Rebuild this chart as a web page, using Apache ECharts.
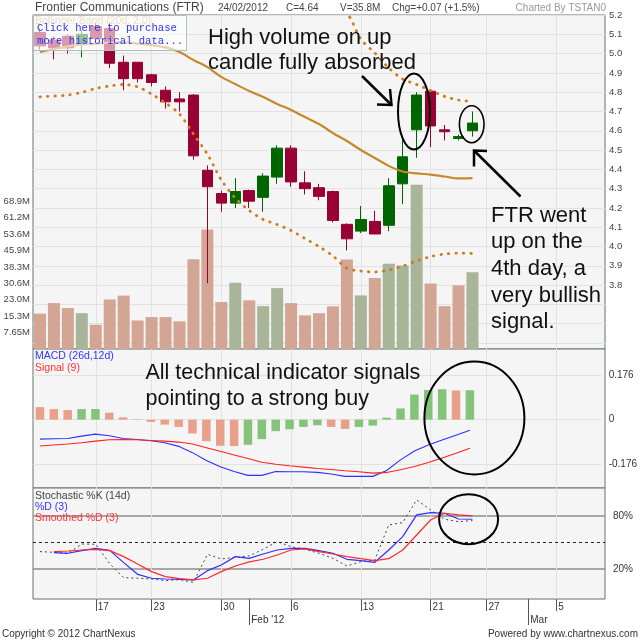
<!DOCTYPE html>
<html>
<head>
<meta charset="utf-8">
<title>Frontier Communications (FTR)</title>
<script src="https://cdn.jsdelivr.net/npm/echarts@6/dist/echarts.min.js"></script>
<style>
    html, body { margin: 0; padding: 0; background: #fff; }
    #chart { width: 640px; height: 640px; }
</style>
</head>
<body>
<div id="chart"></div>
<script>
// trading days (last 9 are empty slots on the axis)
var dates = ['2012-01-10','2012-01-11','2012-01-12','2012-01-13','2012-01-17','2012-01-18','2012-01-19','2012-01-20',
    '2012-01-23','2012-01-24','2012-01-25','2012-01-26','2012-01-27','2012-01-30','2012-01-31',
    '2012-02-01','2012-02-02','2012-02-03','2012-02-06','2012-02-07','2012-02-08','2012-02-09','2012-02-10',
    '2012-02-13','2012-02-14','2012-02-15','2012-02-16','2012-02-17','2012-02-21','2012-02-22','2012-02-23','2012-02-24',
    '2012-02-27','2012-02-28','2012-02-29','2012-03-01','2012-03-02','2012-03-05','2012-03-06','2012-03-07','2012-03-08'];

var opens  = [5.11, 5.07, 5.09, 5.05, 5.14, 5.13, 4.955, 4.955, 4.89, 4.81, 4.765, 4.785, 4.395, 4.275, 4.225, 4.29,
              4.255, 4.36, 4.51, 4.33, 4.305, 4.285, 4.115, 4.08, 4.13, 4.11, 4.325, 4.605, 4.805, 4.605, 4.56, 4.60];
var closes = [5.04, 5.03, 5.03, 5.10, 5.08, 4.95, 4.87, 4.87, 4.85, 4.75, 4.75, 4.47, 4.31, 4.225, 4.285, 4.235,
              4.365, 4.51, 4.335, 4.30, 4.26, 4.135, 4.04, 4.14, 4.065, 4.315, 4.465, 4.785, 4.625, 4.595, 4.57, 4.64];
var lows   = [5.02, 4.97, 5.00, 4.98, 5.07, 4.925, 4.81, 4.85, 4.83, 4.715, 4.70, 4.45, 3.81, 4.18, 4.20, 4.20,
              4.18, 4.325, 4.31, 4.27, 4.24, 4.125, 3.98, 4.07, 4.065, 4.08, 4.22, 4.46, 4.515, 4.55, 4.55, 4.57];
var highs  = [5.13, 5.09, 5.10, 5.12, 5.16, 5.16, 4.99, 4.955, 4.895, 4.83, 4.80, 4.79, 4.42, 4.29, 4.355, 4.295,
              4.38, 4.525, 4.525, 4.39, 4.325, 4.29, 4.12, 4.21, 4.185, 4.355, 4.57, 4.80, 4.805, 4.63, 4.58, 4.70];
// volume in millions
var volumes = [16.5, 21.4, 19.1, 16.7, 11.3, 23.1, 24.9, 13.3, 14.9, 14.9, 12.9, 41.9, 55.7, 21.9, 30.9, 22.7,
               20.0, 28.4, 21.4, 15.7, 16.7, 19.9, 41.7, 25.0, 33.1, 39.8, 39.0, 76.6, 30.5, 20.0, 29.7, 35.8];

// Bollinger band (20d, 2.0)
var bbMid   = [5.008, 5.024, 5.037, 5.047, 5.052, 5.057, 5.058, 5.052, 5.044, 5.032, 5.008, 4.967, 4.930, 4.879, 4.842, 4.806,
               4.775, 4.739, 4.708, 4.671, 4.635, 4.588, 4.547, 4.500, 4.459, 4.418, 4.389, 4.379, 4.373, 4.363, 4.353, 4.355];
var bbUpper = [5.22, 5.23, 5.25, 5.27, 5.28, 5.29, 5.30, 5.31, 5.32, 5.34, 5.37, 5.41, 5.46, 5.50, 5.51, 5.49,
               5.45, 5.40, 5.36, 5.32, 5.28, 5.24, 5.21, 5.075, 5.003, 4.925, 4.868, 4.840, 4.809, 4.778, 4.759, 4.752];
var bbLower = [4.776, 4.780, 4.785, 4.799, 4.819, 4.832, 4.840, 4.827, 4.790, 4.744, 4.687, 4.583, 4.479, 4.345, 4.251, 4.187,
               4.140, 4.114, 4.083, 4.041, 4.000, 3.951, 3.888, 3.873, 3.868, 3.878, 3.899, 3.925, 3.948, 3.961, 3.966, 3.964];

// MACD (26d,12d), signal (9)
var macdHist = [0.0495, 0.0417, 0.0378, 0.0417, 0.0420, 0.0274, 0.0091, 0.002, -0.0091, -0.0196, -0.0287, -0.0548, -0.0848, -0.103, -0.104, -0.0991,
                -0.0769, -0.0456, -0.0378, -0.0287, -0.0222, -0.0287, -0.0365, -0.0287, -0.0235, 0.0078, 0.0443, 0.0991, 0.117, 0.120, 0.115, 0.116];
var macdLine = [-0.0767, -0.0754, -0.0741, -0.065, -0.0572, -0.0637, -0.0741, -0.078, -0.0832, -0.091, -0.1053, -0.13, -0.1612, -0.1859, -0.2041, -0.2197,
                -0.2197, -0.2041, -0.2054, -0.2054, -0.208, -0.2145, -0.2236, -0.2236, -0.2236, -0.2002, -0.1586, -0.1235, -0.1001, -0.0806, -0.0611, -0.0416];
var signalLine = [-0.104, -0.1001, -0.0962, -0.091, -0.0845, -0.0793, -0.078, -0.0793, -0.0819, -0.0845, -0.0884, -0.0962, -0.1105, -0.1248, -0.1391, -0.1534,
                  -0.1677, -0.1755, -0.182, -0.1872, -0.1924, -0.1963, -0.2015, -0.2054, -0.2106, -0.208, -0.1976, -0.1846, -0.169, -0.1508, -0.1326, -0.1131];

// Stochastic %K (14d), %D (3), smoothed %D (3)
var stochK  = [39.7, 38.9, 37.8, 48.3, 48.0, 26.0, 10.2, 9.5, 8.7, 6.8, 8.0, 4.9, 36.6, 31.4, 33.2, 34.8,
               42.3, 51.0, 45.3, 42.3, 37.8, 32.1, 23.4, 28.3, 30.2, 69.9, 72.5, 98.2, 86.8, 76.3, 73.6, 74.8];
var stochD  = [null, 38.5, 37.8, 40.8, 43.4, 41.1, 27.2, 14.0, 9.5, 8.7, 8.3, 7.6, 18.1, 24.6, 34.0, 32.1,
               37.0, 41.5, 43.4, 43.4, 40.8, 37.8, 31.0, 29.5, 27.6, 41.5, 56.6, 81.2, 83.8, 83.1, 76.6, 76.3];
var stochSD = [null, 39.7, 40.4, 41.5, 42.3, 40.8, 34.0, 25.7, 17.0, 11.4, 9.1, 7.6, 9.5, 17.0, 23.4, 28.0,
               31.0, 35.9, 41.5, 42.7, 39.7, 37.0, 34.0, 31.7, 29.5, 31.7, 41.5, 58.5, 75.5, 83.1, 81.2, 80.1];

// axis labels
var volLabels = ['7.65M', '15.3M', '23.0M', '30.6M', '38.3M', '45.9M', '53.6M', '61.2M', '68.9M'];
var macdLabels = ['-0.176', '0', '0.176'];
var stochLabels = ['20%', '80%'];
var tickIdx = [4, 8, 13, 18, 23, 28, 32, 37];
var tickText = ['17', '23', '30', '6', '13', '21', '27', '5'];
var monthIdx = [15, 35];
var monthText = ["Feb '12", 'Mar'];

var FONT = '"Liberation Sans", Arial, sans-serif';
var PANEL_BG = '#f5f5f5', BORDER = '#66726a', GRIDC = '#e2e2e2';
var VOL_UP = '#a8b598', VOL_DN = '#d3a594';
var HIST_UP = '#86c37a', HIST_DN = '#e9a08b';

var chart = echarts.init(document.getElementById('chart'));

var tickFn = function (i) { return tickIdx.indexOf(i) >= 0; };
var monthFn = function (i) { return monthIdx.indexOf(i) >= 0; };

function catAxis(gi, withGrid) {
    return {
        type: 'category', gridIndex: gi, data: dates, boundaryGap: true, z: 1,
        axisLine: {show: false}, axisTick: {show: false}, axisLabel: {show: false},
        splitLine: withGrid ? {show: true, alignWithLabel: true, interval: tickFn, lineStyle: {color: GRIDC, width: 1}} : {show: false}
    };
}

function panel(top, height) {
    return {left: 33, right: 35, top: top, height: height, show: true, z: 0,
        backgroundColor: PANEL_BG, borderColor: BORDER, borderWidth: 1};
}

var xBottom = catAxis(4, true);
xBottom.axisTick = {show: true, alignWithLabel: true, interval: tickFn, length: 12, lineStyle: {color: '#555'}};
xBottom.axisLabel = {show: true, interval: tickFn, align: 'left', padding: [0, 0, 0, 2], margin: 3,
    fontSize: 10, fontFamily: FONT, color: '#333',
    formatter: function (v, i) { return tickText[tickIdx.indexOf(i)] || ''; }};

var xMonth = catAxis(4, false);
xMonth.position = 'bottom';
xMonth.axisTick = {show: true, alignWithLabel: true, interval: monthFn, length: 26, lineStyle: {color: '#555'}};
xMonth.axisLabel = {show: true, interval: monthFn, align: 'left', padding: [0, 0, 0, 2], margin: 16,
    fontSize: 10, fontFamily: FONT, color: '#333',
    formatter: function (v, i) { return monthText[monthIdx.indexOf(i)] || ''; }};

function txt(text, x, y, size, fill, align, family) {
    return {type: 'text', x: x, y: y, z: 100, silent: true,
        style: {text: text, fill: fill, align: align || 'left', verticalAlign: 'middle',
            font: size + 'px ' + (family || FONT)}};
}
function ellipse(cx, cy, rx, ry, w) {
    return {type: 'ellipse', z: 100, silent: true, shape: {cx: cx, cy: cy, rx: rx, ry: ry},
        style: {fill: null, stroke: '#000', lineWidth: w || 2}};
}
function line(points) {
    return {type: 'polyline', z: 100, silent: true, shape: {points: points},
        style: {fill: null, stroke: '#000', lineWidth: 2.5}};
}

var option = {
    animation: false,
    backgroundColor: '#fff',
    grid: [
        panel(15, 334),                              // price + volume panel
        {left: 33, right: 35, top: 15, height: 328}, // price scale 3.5 .. 5.2
        panel(349, 139),                             // MACD panel
        {left: 33, right: 35, top: 375, height: 89.3},
        panel(488, 111),                             // stochastic panel
        {left: 33, right: 35, top: 516, height: 53}
    ],
    xAxis: [catAxis(0, true), catAxis(1, false), catAxis(2, true), catAxis(3, false), xBottom, catAxis(5, false), xMonth],
    yAxis: [
        {type: 'value', gridIndex: 0, position: 'left', min: 0, max: 155.8, interval: 7.65,
            axisLine: {show: false}, axisTick: {show: false}, splitLine: {show: false},
            axisLabel: {margin: 3, fontSize: 9.5, fontFamily: FONT, color: '#444',
                formatter: function (v) { var k = Math.round(v / 7.65); return (k >= 1 && k <= 9) ? volLabels[k - 1] : ''; }}},
        {type: 'value', gridIndex: 1, position: 'right', min: 3.5, max: 5.2, interval: 0.1, z: 1,
            axisLine: {show: false}, axisTick: {show: false},
            splitLine: {show: true, lineStyle: {color: GRIDC, width: 1}},
            axisLabel: {margin: 4, fontSize: 9.5, fontFamily: FONT, color: '#444',
                formatter: function (v) { return v > 3.79 ? v.toFixed(1) : ''; }}},
        {type: 'value', gridIndex: 2, show: false, min: 0, max: 1},
        {type: 'value', gridIndex: 3, position: 'right', min: -0.176, max: 0.176, interval: 0.176, z: 1,
            axisLine: {show: false}, axisTick: {show: false},
            splitLine: {show: true, lineStyle: {color: GRIDC, width: 1}},
            axisLabel: {margin: 7, fontSize: 10, fontFamily: FONT, color: '#333',
                formatter: function (v) { return macdLabels[Math.round(v / 0.176) + 1]; }}},
        {type: 'value', gridIndex: 4, show: false, min: 0, max: 1},
        {type: 'value', gridIndex: 5, position: 'right', min: 20, max: 80, interval: 60, z: 1,
            axisLine: {show: false}, axisTick: {show: false},
            splitLine: {show: true, lineStyle: {color: '#8c8c8c', width: 1.5}},
            axisLabel: {margin: 8, fontSize: 10, fontFamily: FONT, color: '#333',
                formatter: function (v) { return v < 50 ? stochLabels[0] : stochLabels[1]; }}}
    ],
    series: [
        {name: 'Volume', type: 'bar', xAxisIndex: 0, yAxisIndex: 0, barWidth: 12, silent: true,
            data: volumes.map(function (v, i) {
                var up = i > 0 ? closes[i] > closes[i - 1] : closes[i] > opens[i];
                return {value: v, itemStyle: {color: up ? VOL_UP : VOL_DN}};
            })},
        {name: 'FTR', type: 'candlestick', xAxisIndex: 1, yAxisIndex: 1, barWidth: 11, silent: true,
            itemStyle: {color: '#006600', color0: '#990033', borderColor: '#006600', borderColor0: '#990033', borderWidth: 1},
            data: opens.map(function (o, i) { return [o, closes[i], lows[i], highs[i]]; })},
        {name: 'BB mid', type: 'line', xAxisIndex: 1, yAxisIndex: 1, symbol: 'none', smooth: 0.3, silent: true,
            lineStyle: {color: '#c58a2c', width: 2.2}, data: bbMid},
        {name: 'BB upper', type: 'line', xAxisIndex: 1, yAxisIndex: 1, symbol: 'none', smooth: 0.3, silent: true,
            lineStyle: {color: '#cc7d1c', width: 2.8, type: [0.5, 7], cap: 'round'}, data: bbUpper},
        {name: 'BB lower', type: 'line', xAxisIndex: 1, yAxisIndex: 1, symbol: 'none', smooth: 0.3, silent: true,
            lineStyle: {color: '#cc7d1c', width: 2.8, type: [0.5, 7], cap: 'round'}, data: bbLower},
        {name: 'Hist', type: 'bar', xAxisIndex: 3, yAxisIndex: 3, barWidth: 8.5, silent: true, clip: false,
            data: macdHist.map(function (v, i) {
                var up = i > 0 && v > macdHist[i - 1];
                return {value: v, itemStyle: {color: up ? HIST_UP : HIST_DN}};
            })},
        {name: 'MACD', type: 'line', xAxisIndex: 3, yAxisIndex: 3, symbol: 'none', clip: false, silent: true,
            lineStyle: {color: '#2f2fff', width: 1.1}, data: macdLine},
        {name: 'Signal', type: 'line', xAxisIndex: 3, yAxisIndex: 3, symbol: 'none', clip: false, silent: true,
            lineStyle: {color: '#ff2020', width: 1.1}, data: signalLine},
        {name: '%K', type: 'line', xAxisIndex: 5, yAxisIndex: 5, symbol: 'none', clip: false, silent: true,
            lineStyle: {color: '#444', width: 1, type: [2, 3]}, data: stochK,
            markLine: {silent: true, symbol: 'none', label: {show: false}, animation: false,
                lineStyle: {color: '#222', width: 1, type: [3, 3]}, data: [{yAxis: 50}]}},
        {name: '%D', type: 'line', xAxisIndex: 5, yAxisIndex: 5, symbol: 'none', clip: false, silent: true,
            lineStyle: {color: '#2f2fff', width: 1.2}, data: stochD},
        {name: 'Smoothed %D', type: 'line', xAxisIndex: 5, yAxisIndex: 5, symbol: 'none', clip: false, silent: true,
            lineStyle: {color: '#ff2a2a', width: 1.2}, data: stochSD}
    ],
    graphic: [
        // header
        txt('Frontier Communications (FTR)', 35, 8, 12, '#444'),
        txt('24/02/2012', 218, 8, 10, '#444'),
        txt('C=4.64', 286, 8, 10, '#444'),
        txt('V=35.8M', 340, 8, 10, '#444'),
        txt('Chg=+0.07 (+1.5%)', 392, 8, 10, '#444'),
        txt('Charted By TSTAN0', 606, 8, 10, '#999', 'right'),
        // bollinger label and purchase box
        txt('Bollinger Band (20d, 2.0)', 35, 21, 10.5, '#d6a66a'),
        {type: 'rect', z: 100, silent: true, shape: {x: 33.5, y: 15.5, width: 153, height: 35},
            style: {fill: 'rgba(255,255,255,0.6)', stroke: '#b2c0b2', lineWidth: 1}},
        txt('Click here to purchase', 37, 28.5, 10.6, '#3333ee', 'left', '"Liberation Mono", "DejaVu Sans Mono", monospace'),
        txt('more historical data...', 37, 41.5, 10.6, '#3333ee', 'left', '"Liberation Mono", "DejaVu Sans Mono", monospace'),
        // indicator legends
        txt('MACD (26d,12d)', 35, 356.5, 10.5, '#3333ff'),
        txt('Signal (9)', 35, 368, 10.5, '#ff3333'),
        txt('Stochastic %K (14d)', 35, 496, 10.5, '#444'),
        txt('%D (3)', 35, 507, 10.5, '#3333ff'),
        txt('Smoothed %D (3)', 35, 518, 10.5, '#ff3333'),
        // annotations
        txt('High volume on up', 208, 37.5, 22, '#111'),
        txt('candle fully absorbed', 208, 62.5, 22, '#111'),
        line([[362, 76], [391.5, 105]]),
        line([[390, 89], [391.5, 105], [377, 104.5]]),
        ellipse(414, 111.5, 16, 38),
        ellipse(471.7, 124.2, 12.3, 18.5, 1.6),
        line([[520.5, 196.5], [474, 150.5]]),
        line([[474, 166.5], [474, 150.5], [487, 151]]),
        txt('FTR went', 491, 215.5, 22, '#111'),
        txt('up on the', 491, 242, 22, '#111'),
        txt('4th day, a', 491, 268.5, 22, '#111'),
        txt('very bullish', 491, 295.5, 22, '#111'),
        txt('signal.', 491, 321.5, 22, '#111'),
        txt('All technical indicator signals', 145.5, 373, 21.5, '#111'),
        txt('pointing to a strong buy', 145.5, 399, 21.5, '#111'),
        ellipse(474.4, 418, 50, 56.5),
        ellipse(468.6, 519.2, 29.5, 25),
        // footer
        txt('Copyright \u00a9 2012 ChartNexus', 2, 634, 10, '#333'),
        txt('Powered by www.chartnexus.com', 638, 634, 10, '#333', 'right')
    ]
};

chart.setOption(option);
</script>
</body>
</html>
